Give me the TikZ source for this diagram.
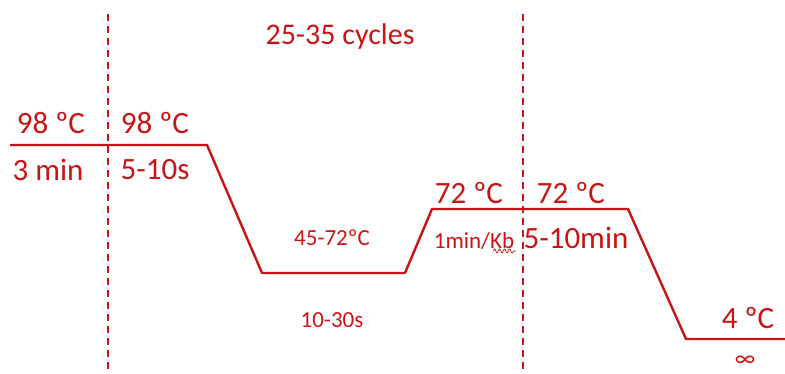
\documentclass[tikz,border=0pt]{standalone}
\usepackage{fontspec}
\setmainfont{Carlito}
\usetikzlibrary{decorations.pathmorphing}
\definecolor{pcr}{RGB}{200,20,20}
\begin{document}
\begin{tikzpicture}[x=1pt,y=-1pt,
  prof/.style={draw=pcr,line width=2.4pt,line join=round},
  sep/.style={draw=pcr,line width=1.5pt,dash pattern=on 7pt off 5pt},
  big/.style={text=pcr,font=\fontsize{31}{34}\selectfont,inner sep=0pt},
  small/.style={text=pcr,font=\fontsize{23}{26}\selectfont,inner sep=0pt}]
\useasboundingbox (0,0) rectangle (785,374);
\coordinate (p0) at (10,145);
\coordinate (p1) at (207,145);
\coordinate (p2) at (262,273);
\coordinate (p3) at (405,273);
\coordinate (p4) at (432,209);
\coordinate (p5) at (628,209);
\coordinate (p6) at (686,339);
\coordinate (p7) at (790,339);
\draw[prof] (p0) -- (p1) -- (p2) -- (p3) -- (p4) -- (p5) -- (p6) -- (p7);
\coordinate (d1t) at (108,14);
\coordinate (d1b) at (108,374);
\coordinate (d2t) at (523,14);
\coordinate (d2b) at (523,374);
\draw[sep] (d1t) -- (d1b);
\draw[sep] (d2t) -- (d2b);
\node[big,font=\fontsize{30}{33}\selectfont] (cyc) at (340,37) {25-35 cycles};
\node[big] (t1) at (51,123) {98 ºC};
\node[big] (m1) at (48,170) {3 min};
\node[big] (t2) at (155,123) {98 ºC};
\node[big] (m2) at (155,170) {5-10s};
\node[small] (t3) at (332,238) {45-72ºC};
\node[small] (m3) at (332,320) {10-30s};
\node[big] (t4) at (469,193) {72 ºC};
\node[small] (m4) at (474,241) {1min/Kb};
\node[big] (t5) at (571,193) {72 ºC};
\node[big] (m5) at (576,238) {5-10min};
\node[big] (t6) at (748,318) {4 ºC};
\node[big,font=\fontsize{24}{26}\selectfont] (inf) at (745,361) {∞};
\coordinate (sq1) at (493,251);
\coordinate (sq2) at (516,251);
\draw[pcr,line width=0.7pt,decorate,decoration={snake,amplitude=2pt,segment length=5pt}] (sq1) -- (sq2);
\end{tikzpicture}
\end{document}
